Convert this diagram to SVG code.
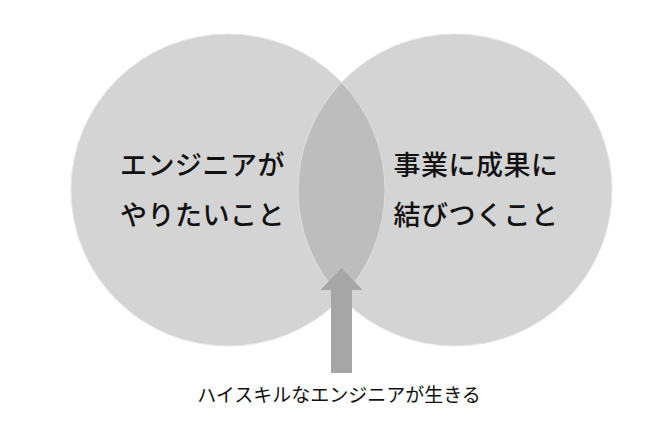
<svg xmlns="http://www.w3.org/2000/svg" width="670" height="426" viewBox="0 0 670 426">
  <style>
    .circle { fill: #d4d4d4; stroke: #e6e6e6; stroke-width: 1; }
    .lens { fill: #bdbdbd; stroke: #dcdcdc; stroke-width: 1; }
    .big { font-family: "Noto Sans CJK JP", "Noto Sans", sans-serif; font-size: 27px; font-weight: 500; fill: #111111; text-anchor: middle; letter-spacing: 0.5px; }
    .small { font-family: "Noto Sans CJK JP", "Noto Sans", sans-serif; font-size: 19px; font-weight: 400; fill: #111111; text-anchor: middle; }
    .arrow { fill: #a6a6a6; }
  </style>
  <rect width="670" height="426" fill="#ffffff"/>
  <g id="left-circle">
    <ellipse class="circle" cx="228" cy="190" rx="157" ry="156"/>
  </g>
  <g id="right-circle">
    <ellipse class="circle" cx="455" cy="190" rx="157" ry="156"/>
  </g>
  <g id="overlap">
    <path class="lens" d="M341.5,82.2 A157,156 0 0 0 341.5,297.8 A157,156 0 0 0 341.5,82.2 Z"/>
  </g>
  <g id="left-label">
    <text class="big" x="202.5" y="175">エンジニアが</text>
    <text class="big" x="202.5" y="225">やりたいこと</text>
  </g>
  <g id="right-label">
    <text class="big" x="476" y="175">事業に成果に</text>
    <text class="big" x="476" y="225">結びつくこと</text>
  </g>
  <g id="connectors">
    <polygon class="arrow" points="341.5,268 362.5,290 352,290 352,373 331,373 331,290 320.5,290"/>
  </g>
  <g id="bottom-label">
    <text class="small" x="339" y="402">ハイスキルなエンジニアが生きる</text>
  </g>
</svg>
